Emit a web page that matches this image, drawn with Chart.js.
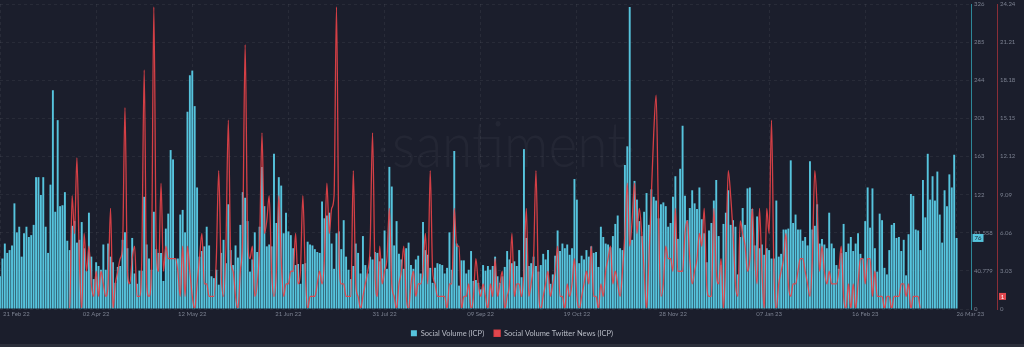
<!DOCTYPE html>
<html>
<head>
<meta charset="utf-8">
<title>ICP social volume</title>
<script src="https://cdn.jsdelivr.net/npm/chart.js@4.4.0/dist/chart.umd.min.js"></script>
<style>
  html, body { margin: 0; padding: 0; background: #1b1e2c; overflow: hidden; }
  #chart { display: block; }
</style>
</head>
<body>
<canvas id="chart" width="1024" height="347"></canvas>
<script>
// Daily social volume for ICP, 21 Feb 2022 onwards
const socialVolume = [
  35,54,70,60,63,68,113,82,88,56,81,88,77,79,90,141,141,122,141,88,60,133,234,104,202,110,111,125,73,63,89,94,71,74,93,65,41,103,56,32,50,46,42,69,42,70,56,50,28,45,46,74,82,65,27,76,38,27,41,41,120,69,54,42,104,64,60,60,
  30,86,102,170,160,54,54,101,106,82,211,250,255,217,130,56,62,67,88,68,35,33,42,26,60,74,49,112,63,47,68,55,90,125,119,94,40,53,82,61,88,152,110,67,69,67,166,92,141,132,81,103,83,79,65,47,48,27,48,49,72,69,68,64,61,60,115,
  97,100,103,70,43,81,83,64,95,56,42,32,46,70,60,38,78,47,38,56,53,61,60,51,54,84,43,152,131,68,94,59,53,43,65,71,47,43,53,57,38,93,63,58,44,28,44,49,48,47,38,44,82,42,169,70,25,52,52,38,42,62,30,31,28,21,
  47,41,46,42,46,56,35,28,35,45,62,53,49,51,46,63,34,171,76,46,49,56,46,40,47,59,53,63,27,37,57,84,62,70,65,69,58,65,139,117,49,57,53,63,56,67,60,61,45,88,77,70,69,66,78,91,100,65,63,154,174,323,74,137,117,94,
  78,104,124,90,128,120,116,97,112,114,110,88,92,120,142,75,150,196,121,95,108,127,113,107,130,96,81,50,84,92,116,138,78,47,91,103,127,90,95,88,37,77,108,90,129,130,107,68,99,65,69,58,65,63,54,54,116,56,59,85,85,86,159,92,101,85,85,
  73,77,68,158,85,89,112,70,75,69,65,103,70,65,47,43,60,91,61,70,77,62,70,81,59,54,94,130,87,129,65,40,102,95,44,37,63,90,92,76,77,62,74,36,80,123,121,85,84,63,138,98,166,117,142,116,147,101,71,127,110,144,130,165,76
];

// Daily count of Twitter news mentions for ICP, same days
const twitterNews = [
  0,0,0,0,0,0,0,0,0,0,0,0,0,0,0,0,0,0,0,0,0,0,0,0,0,0,0,0,0,
  0,9,6,12,4,0,6,3,5,2,1,3,1,3,2,1,2,8,0,2,3,4,5,16,3,2,4,5,1,1,4,19,2,1,3,24,5,3,10,
  3,5,4,4,4,4,3,1,5,1,5,3,1,0,2,4,6,2,2,1,1,1,4,11,3,1,5,15,4,3,1,0,3,6,21,6,4,5,1,2,5,14,6,7,9,3,1,3,9,4,1,2,2,3,3,6,2,3,9,3,0,1,1,1,2,3,2,
  4,10,6,8,9,24,5,2,2,1,1,1,11,2,1,0,1,2,3,5,14,3,1,5,2,3,4,8,2,1,0,2,3,5,1,0,2,3,1,2,2,3,6,2,11,3,2,1,1,1,1,0,2,2,8,5,5,0,1,1,2,0,1,4,2,1,
  2,1,0,2,1,4,1,2,3,0,1,2,6,1,2,2,1,3,8,1,2,4,11,2,0,1,2,3,1,2,3,5,1,1,0,2,1,2,4,1,0,1,2,3,2,5,1,1,0,2,1,3,4,5,2,3,2,1,3,6,10,5,7,10,6,8,
  6,3,0,4,9,14,17,7,1,2,5,4,4,3,8,3,3,3,6,7,4,2,3,4,6,5,8,2,1,1,8,3,2,4,0,4,11,9,6,2,1,7,6,5,3,4,8,4,2,8,3,0,8,6,15,3,0,2,3,4,6,2,1,2,2,3,4,
  4,3,2,1,4,11,8,3,5,3,2,3,2,2,2,3,5,1,0,2,0,2,0,2,4,4,2,4,4,1,3,1,1,1,0,1,1,0,1,1,1,2,2,1,2,0,1,1,1,0,
  0,0,0,0,0,0,0,0,0,0,0,0,0,0,0
];
const latestNews = 1;

// Day slots on the time axis (the axis runs a few days past the last bar)
const dayCount = 405;
const days = Array.from({ length: dayCount }, (_, i) => i);

// Date ticks, every 40 days, plus the range end
const dateLabels = ['21 Feb 22','02 Apr 22','12 May 22','21 Jun 22','31 Jul 22','09 Sep 22','19 Oct 22','28 Nov 22','07 Jan 23','16 Feb 23','26 Mar 23'];
const dateIndex  = [0, 40, 80, 120, 160, 200, 240, 280, 320, 360, 398];

// Value axes
const volumeMax = 326.232;
const volumeTickLabels = ['0','40.779','81.558','122','163','203','244','285','326'];
const newsMax = 24.24;
const newsTickLabels = ['0','3.03','6.06','9.09','12.12','15.15','18.18','21.21','24.24'];

const BAR = 'rgb(86,196,221)';
const RED = 'rgba(232,66,72,0.9)';
const TICK = '#7b8090';
const GRID = 'rgba(255,255,255,0.06)';
const FONT = 'Lato, "Open Sans", sans-serif';
const watermark = 'santiment';

const decorations = {
  id: 'decorations',
  beforeDatasetsDraw(chart) {
    const { ctx } = chart;
    ctx.save();
    ctx.fillStyle = 'rgba(255,255,255,0.04)';
    ctx.font = '300 64px ' + FONT;
    ctx.textBaseline = 'alphabetic';
    ctx.textAlign = 'center';
    const w = ctx.measureText(watermark).width;
    ctx.translate(509, 167);
    ctx.scale(234 / w, 1);
    ctx.fillText(watermark, 0, 0);
    ctx.restore();
    ctx.save();
    ctx.fillStyle = 'rgba(255,255,255,0.04)';
    ctx.beginPath(); ctx.arc(383, 150, 2.5, 0, Math.PI * 2); ctx.fill();
    ctx.beginPath(); ctx.arc(630, 150, 2.5, 0, Math.PI * 2); ctx.fill();
    ctx.restore();
  },
  afterDraw(chart) {
    const { ctx, chartArea, scales } = chart;
    const x = scales.x, y = scales.y, y2 = scales.y2;

    // date labels under the plot
    ctx.save();
    ctx.font = '6px ' + FONT;
    ctx.fillStyle = TICK;
    ctx.textBaseline = 'middle';
    dateIndex.forEach((idx, k) => {
      const px = x.getPixelForValue(idx);
      let dx = 0;
      ctx.textAlign = 'center';
      if (k === 0) { ctx.textAlign = 'left'; dx = 3; }
      if (k === dateIndex.length - 1) { ctx.textAlign = 'left'; }
      ctx.fillText(dateLabels[k], px + dx, chartArea.bottom + 5);
    });
    ctx.restore();

    // latest-value badges on the axes
    const lastVolume = socialVolume[socialVolume.length - 1];
    const by = y.getPixelForValue(lastVolume);
    ctx.save();
    ctx.fillStyle = BAR;
    ctx.fillRect(y.left + 1.5, by - 4, 11, 8);
    ctx.fillStyle = '#1b1e2c';
    ctx.font = '6px ' + FONT;
    ctx.textAlign = 'center';
    ctx.textBaseline = 'middle';
    ctx.fillText(String(lastVolume), y.left + 7, by + 0.5);

    const ry = y2.getPixelForValue(latestNews);
    ctx.fillStyle = '#e0484f';
    ctx.fillRect(y2.left + 2, ry - 3.5, 7, 7);
    ctx.fillStyle = '#ffffff';
    ctx.fillText(String(latestNews), y2.left + 5.5, ry + 0.5);
    ctx.restore();

    // footer strip
    ctx.save();
    ctx.fillStyle = '#2b2e3a';
    ctx.fillRect(0, chart.height - 3, chart.width, 3);
    ctx.restore();
  }
};

new Chart(document.getElementById('chart'), {
  data: {
    labels: days,
    datasets: [
      {
        type: 'bar',
        label: 'Social Volume (ICP)',
        data: socialVolume,
        yAxisID: 'y',
        backgroundColor: BAR,
        borderWidth: 0,
        barPercentage: 0.8,
        categoryPercentage: 1,
        order: 1
      },
      {
        type: 'line',
        label: 'Social Volume Twitter News (ICP)',
        data: twitterNews,
        yAxisID: 'y2',
        borderColor: RED,
        backgroundColor: '#e0484f',
        borderWidth: 1.3,
        pointRadius: 0,
        cubicInterpolationMode: 'monotone',
        clip: { left: 0, top: 4, right: 0, bottom: -1 },
        order: 0
      }
    ]
  },
  options: {
    responsive: false,
    animation: false,
    layout: { padding: 0 },
    plugins: {
      tooltip: { enabled: false },
      legend: {
        position: 'bottom',
        labels: {
          color: '#b8bcc6',
          font: { family: FONT, size: 7.5 },
          boxWidth: 6,
          boxHeight: 6,
          padding: 10,
          sort: (a, b) => a.datasetIndex - b.datasetIndex
        }
      }
    },
    scales: {
      x: {
        type: 'category',
        offset: false,
        grid: {
          offset: false,
          drawTicks: false,
          color: (c) => dateIndex.includes(c.index) ? GRID : 'rgba(0,0,0,0)'
        },
        border: { display: false, dash: [3, 3] },
        ticks: { display: false, autoSkip: false },
        afterFit(s) { s.height = 10.5; }
      },
      y: {
        type: 'linear',
        position: 'right',
        weight: 0,
        min: 0,
        max: volumeMax,
        afterBuildTicks(s) { s.ticks = volumeTickLabels.map((_, i) => ({ value: i * volumeMax / 8 })); },
        ticks: {
          callback: (v, i) => volumeTickLabels[i],
          color: TICK,
          font: { family: FONT, size: 6 },
          padding: 3,
          autoSkip: false
        },
        grid: { color: GRID, drawTicks: false },
        border: { color: '#2d8798', width: 1, dash: [3, 3] },
        afterFit(s) { s.width = 26; s.paddingTop = 4; }
      },
      y2: {
        type: 'linear',
        position: 'right',
        weight: 1,
        min: 0,
        max: newsMax,
        afterBuildTicks(s) { s.ticks = newsTickLabels.map((_, i) => ({ value: i * newsMax / 8 })); },
        ticks: {
          callback: (v, i) => newsTickLabels[i],
          color: TICK,
          font: { family: FONT, size: 6 },
          padding: 3,
          autoSkip: false
        },
        grid: { display: false, drawTicks: false },
        border: { color: '#8a2e37', width: 1 },
        afterFit(s) { s.width = 27; s.paddingTop = 4; }
      }
    }
  },
  plugins: [decorations]
});
</script>
</body>
</html>
